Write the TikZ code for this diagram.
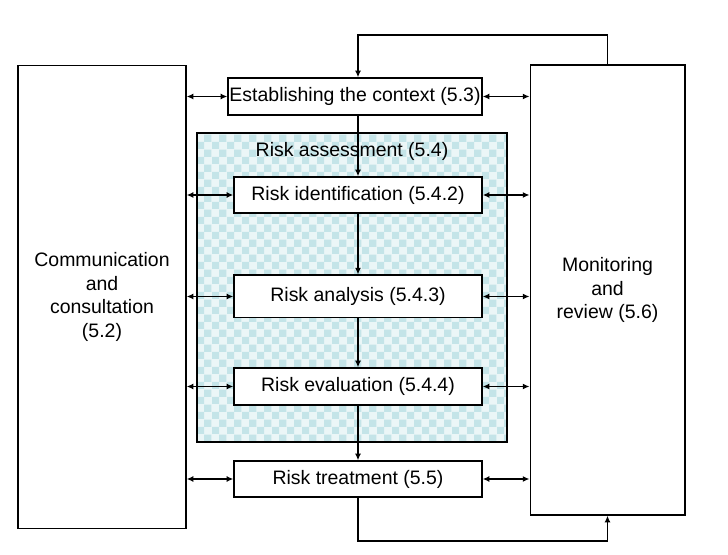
\documentclass[tikz,border=0pt]{standalone}
\usepackage{fontspec}
\setmainfont{Liberation Sans}
\usepackage{tikz}
\usetikzlibrary{arrows.meta,positioning,calc,patterns}
\usepackage{xcolor}
\definecolor{rbase}{HTML}{EBF6F7}
\definecolor{rcheck}{HTML}{C4E4E8}

\begin{document}
\begin{tikzpicture}[x=0.75pt, y=-0.75pt,
  font=\fontsize{14.6}{17.6}\selectfont,
  boxline/.style={draw, line width=1pt, fill=white, inner sep=0pt, align=center},
  stepbox/.style={boxline, minimum width=186pt, minimum height=27pt},
  link/.style={line width=1.3pt, {Latex[length=5pt,width=4.5pt]}-{Latex[length=5pt,width=4.5pt]}},
  flow/.style={line width=1.3pt, -{Latex[length=5pt,width=4.5pt]}}]
\useasboundingbox (0,0) rectangle (728,555);
% ---------------- side boxes ----------------
\node[boxline, minimum width=126pt, minimum height=347pt] (comm) at (102,297)
  {Communication\\and\\consultation\\(5.2)};
\node[boxline, minimum width=116pt, minimum height=337.5pt] (mon) at (607.5,290)
  {Monitoring\\and\\review (5.6)};
% ---------------- risk assessment area ----------------
\fill[rbase] (197,133) rectangle (507,442);
\fill[pattern=checkerboard, pattern color=rcheck] (197,133) rectangle (507,442);
\draw[line width=1pt] (197,133) rectangle (507,442);
\node (assesslbl) at (352,151) {Risk assessment (5.4)};
% ---------------- process steps ----------------
\node[boxline, minimum width=190.5pt, minimum height=27.75pt] (ctx) at (355,96.5)
  {Establishing the context (5.3)};
\node[stepbox] (ident) at (358,195) {Risk identification (5.4.2)};
\node[stepbox, minimum height=32pt] (ana) at (358,296.5) {Risk analysis (5.4.3)};
\node[stepbox, minimum height=27.75pt] (eval) at (358,386.5) {Risk evaluation (5.4.4)};
\node[stepbox] (treat) at (358,479) {Risk treatment (5.5)};
% ---------------- flow ----------------
\draw[flow] (ident.north |- ctx.south) -- (ident.north);
\draw[flow] (ident.south) -- (ana.north);
\draw[flow] (ana.south) -- (eval.north);
\draw[flow] (eval.south) -- (treat.north);
% loops to and from monitoring
\coordinate (toploop) at (607.5,35);
\coordinate (botloop) at (358,541);
\draw[flow] (mon.north) -- (toploop) -| (ident.north |- ctx.north);
\draw[flow] (treat.south) -- (botloop) -| (mon.south);
% ---------------- two-way links ----------------
\foreach \b in {ctx,ident,ana,eval,treat}{
  \draw[link] (comm.east |- \b.west) -- (\b.west);
  \draw[link] (\b.east) -- (mon.west |- \b.east);}
\end{tikzpicture}
\end{document}
